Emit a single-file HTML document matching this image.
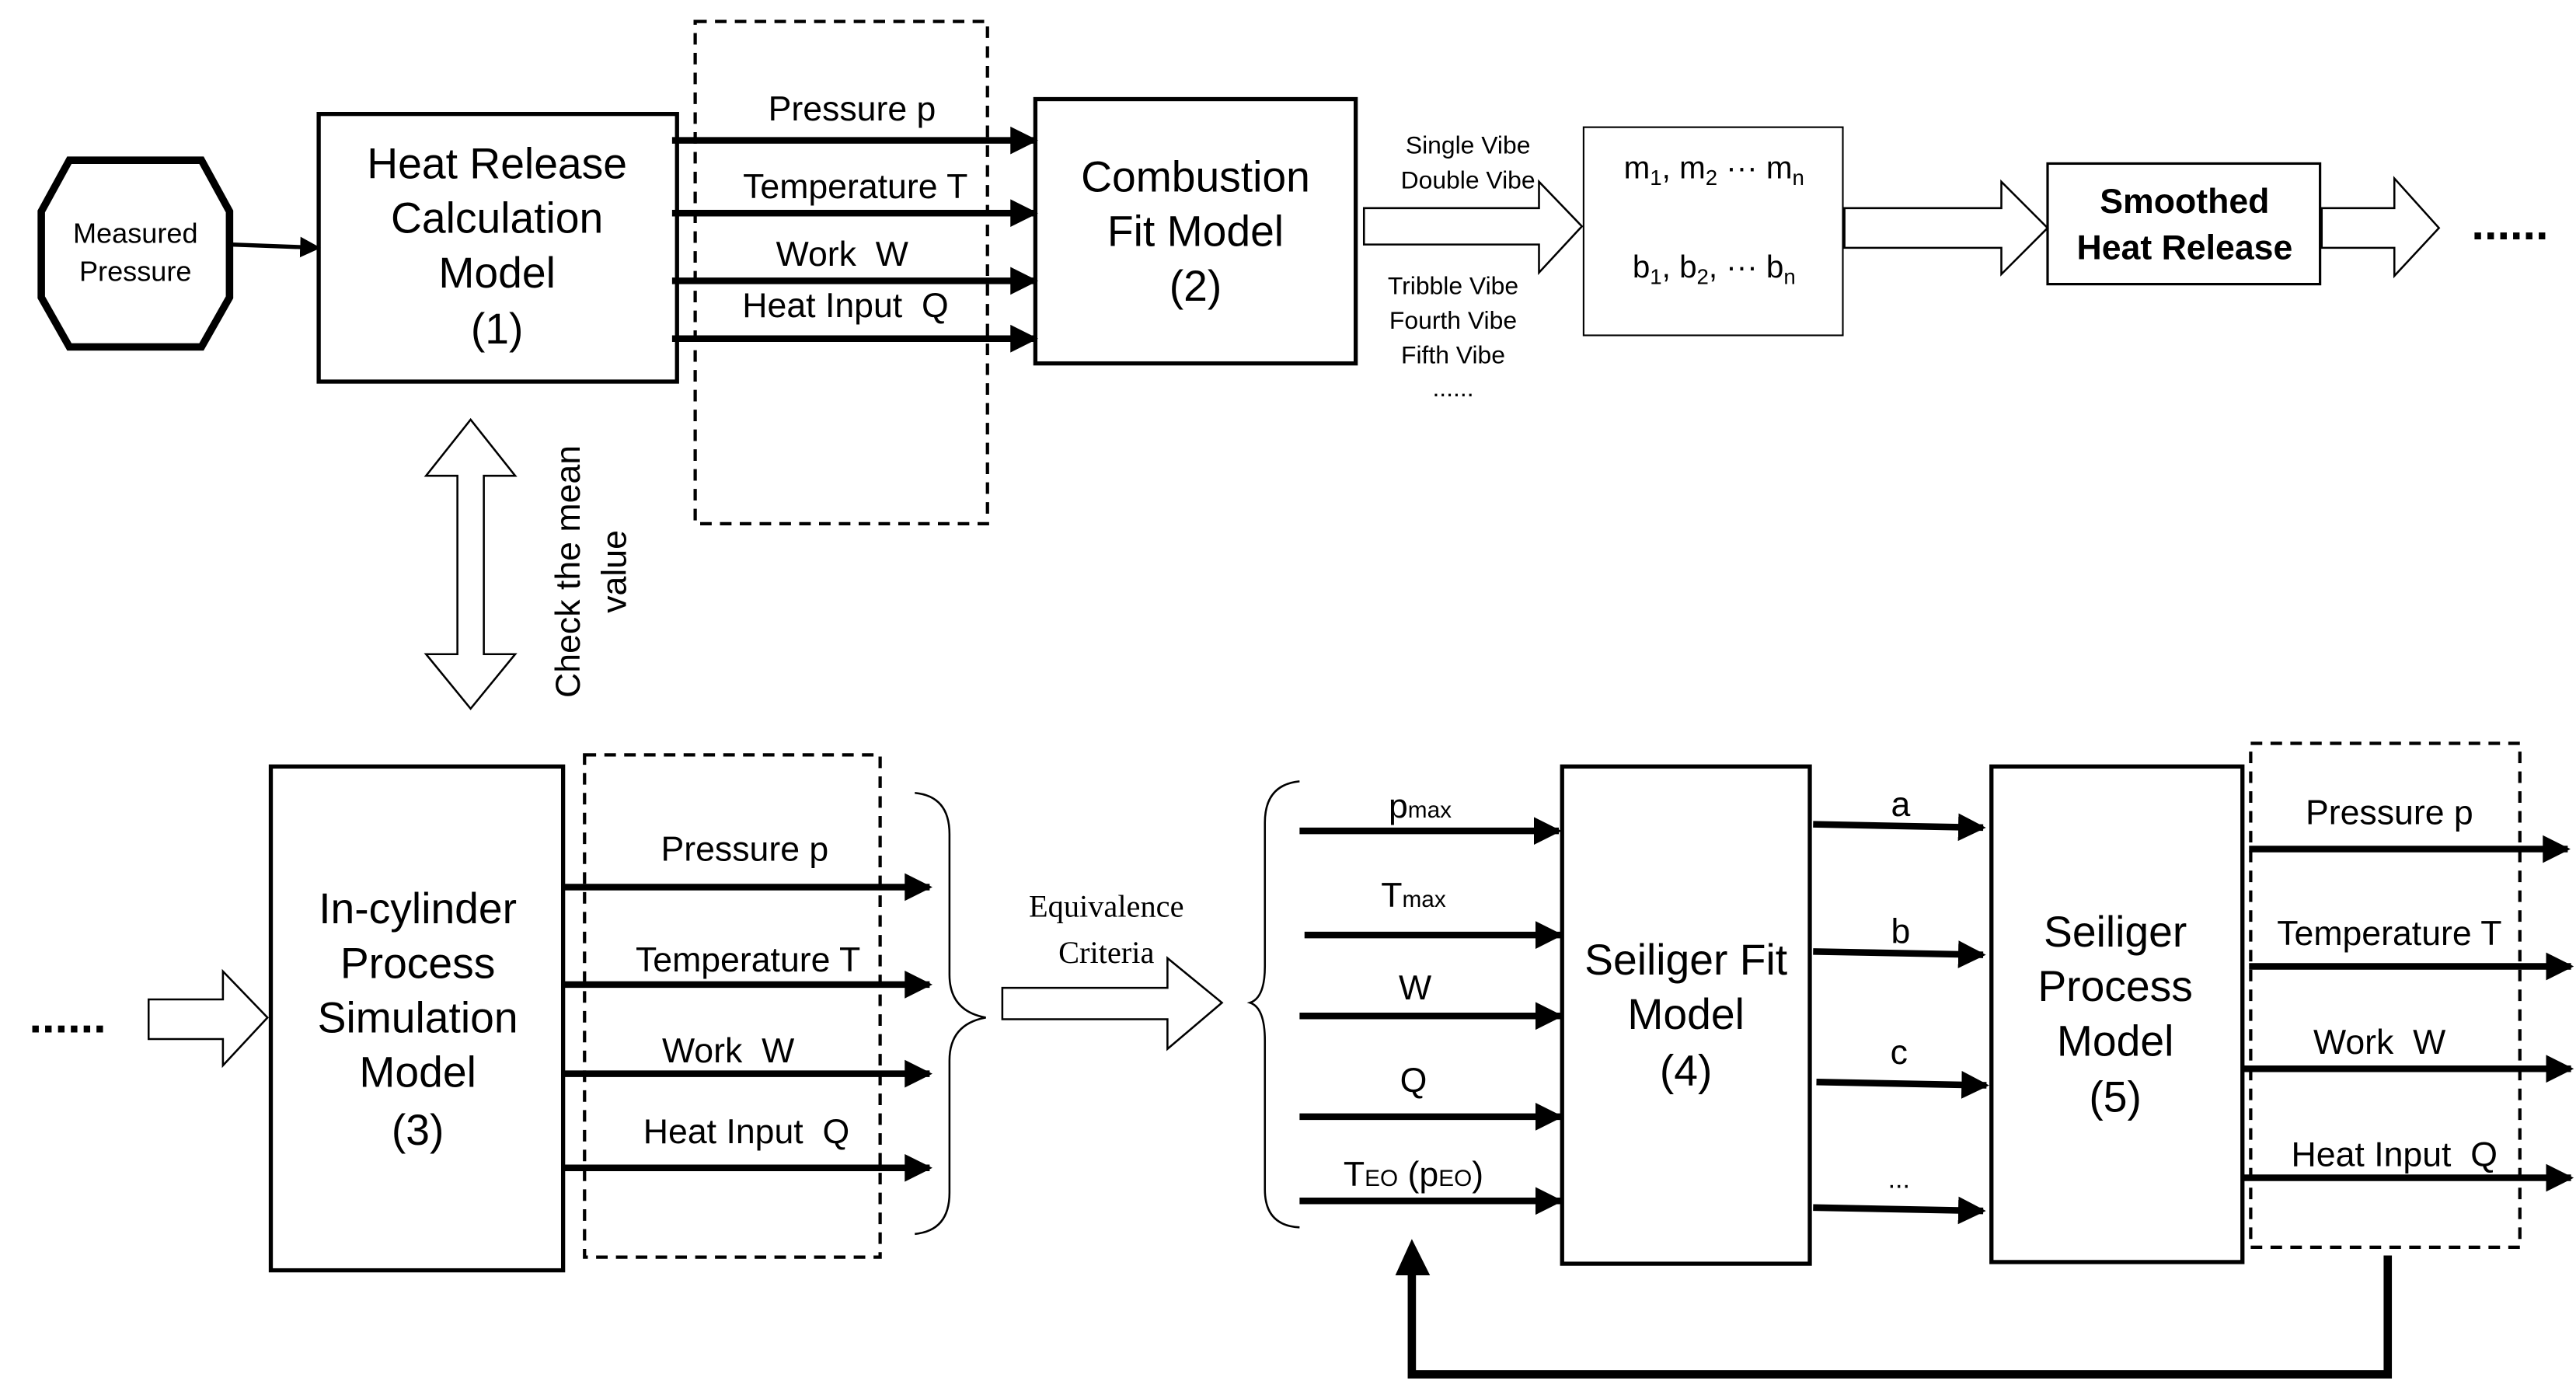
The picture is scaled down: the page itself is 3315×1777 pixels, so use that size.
<!DOCTYPE html>
<html><head><meta charset="utf-8"><style>html,body{margin:0;padding:0;background:#fff}svg{display:block}</style></head>
<body>
<svg width="3315" height="1777" viewBox="0 0 1560 836" preserveAspectRatio="none" xmlns="http://www.w3.org/2000/svg" font-family="Liberation Sans, Arial, sans-serif" text-anchor="middle">
<defs>
<marker id="ah" viewBox="0 0 10 10" refX="9" refY="5" markerWidth="4.2" markerHeight="4.8" orient="auto" markerUnits="strokeWidth"><path d="M0,0 L10,5 L0,10 z" fill="#000"/></marker>
<marker id="ah2" viewBox="0 0 10 10" refX="9" refY="5" markerWidth="5" markerHeight="5.5" orient="auto" markerUnits="strokeWidth"><path d="M0,0 L10,5 L0,10 z" fill="#000"/></marker>
</defs>
<rect width="1560" height="836" fill="#fff"/>
<g fill="none" stroke="#000">
<polygon points="42,97 122,97 139,128 139,180 122,210 42,210 25,180 25,128" stroke-width="4.5"/>
<line x1="139" y1="148" x2="193" y2="150" stroke-width="2.5" marker-end="url(#ah2)"/>
<rect x="193" y="69" width="217" height="162" stroke-width="2.5"/>
<rect x="421" y="13" width="177" height="304" stroke-width="2" stroke-dasharray="7,5"/>
<g stroke-width="4" marker-end="url(#ah)">
<line x1="407" y1="85" x2="627" y2="85"/>
<line x1="407" y1="129" x2="627" y2="129"/>
<line x1="407" y1="170" x2="627" y2="170"/>
<line x1="407" y1="205" x2="627" y2="205"/>
</g>
<rect x="627" y="60" width="194" height="160" stroke-width="2.5"/>
<polygon points="826,126 932,126 932,110 958,137 932,165 932,148 826,148" stroke-width="1.2"/>
<rect x="959" y="77" width="157" height="126" stroke-width="1"/>
<polygon points="1117,126 1212,126 1212,110 1240,138 1212,166 1212,150 1117,150" stroke-width="1.2"/>
<rect x="1240" y="99" width="165" height="73" stroke-width="1.5"/>
<polygon points="1406,126 1450,126 1450,108 1477,138 1450,167 1450,150 1406,150" stroke-width="1.2"/>
<polygon points="285,254 312,288 293,288 293,396 312,396 285,429 258,396 277,396 277,288 258,288" stroke-width="1.2"/>
<polygon points="90,605 135,605 135,588 162,616 135,645 135,629 90,629" stroke-width="1.2"/>
<rect x="164" y="464" width="177" height="305" stroke-width="2.5"/>
<rect x="354" y="457" width="179" height="304" stroke-width="2" stroke-dasharray="7,5"/>
<g stroke-width="4" marker-end="url(#ah)">
<line x1="341" y1="537" x2="563" y2="537"/>
<line x1="341" y1="596" x2="563" y2="596"/>
<line x1="341" y1="650" x2="563" y2="650"/>
<line x1="341" y1="707" x2="563" y2="707"/>
</g>
<path d="M554,480 Q575,482 575,505 L575,590 Q575,612 597,616 Q575,620 575,642 L575,722 Q575,745 554,747" stroke-width="1.2"/>
<polygon points="607,598 707,598 707,580 740,607 707,635 707,617 607,617" stroke-width="1.2"/>
<path d="M787,473 Q766,475 766,498 L766,585 Q766,604 757,607 Q766,610 766,630 L766,720 Q766,742 787,743" stroke-width="1.2"/>
<g stroke-width="4" marker-end="url(#ah)">
<line x1="787" y1="503" x2="944" y2="503"/>
<line x1="790" y1="566" x2="945" y2="566"/>
<line x1="787" y1="615" x2="945" y2="615"/>
<line x1="787" y1="676" x2="945" y2="676"/>
<line x1="787" y1="727" x2="945" y2="727"/>
</g>
<rect x="946" y="464" width="150" height="301" stroke-width="2.5"/>
<g stroke-width="4" marker-end="url(#ah)">
<line x1="1098" y1="499" x2="1201" y2="501"/>
<line x1="1098" y1="576" x2="1201" y2="578"/>
<line x1="1100" y1="655" x2="1203" y2="657"/>
<line x1="1098" y1="731" x2="1201" y2="733"/>
</g>
<rect x="1206" y="464" width="152" height="300" stroke-width="2.5"/>
<rect x="1363" y="450" width="163" height="305" stroke-width="2" stroke-dasharray="7,5"/>
<g stroke-width="4" marker-end="url(#ah)">
<line x1="1362" y1="514" x2="1555" y2="514"/>
<line x1="1362" y1="585" x2="1557" y2="585"/>
<line x1="1358" y1="647" x2="1557" y2="647"/>
<line x1="1358" y1="713" x2="1557" y2="713"/>
</g>
<polyline points="1446,760 1446,832 855,832 855,770" stroke-width="5"/>
</g>
<polygon points="845,772 855,750 866,772" fill="#000"/>
<g fill="#000">
<text x="82" y="147" font-size="17">Measured</text>
<text x="82" y="170" font-size="17">Pressure</text>
<g font-size="26">
<text x="301" y="108">Heat Release</text>
<text x="301" y="141">Calculation</text>
<text x="301" y="174">Model</text>
<text x="301" y="208">(1)</text>
<text x="724" y="116">Combustion</text>
<text x="724" y="149">Fit Model</text>
<text x="724" y="182">(2)</text>
<text x="253" y="559">In-cylinder</text>
<text x="253" y="592">Process</text>
<text x="253" y="625">Simulation</text>
<text x="253" y="658">Model</text>
<text x="253" y="693">(3)</text>
<text x="1021" y="590">Seiliger Fit</text>
<text x="1021" y="623">Model</text>
<text x="1021" y="657">(4)</text>
<text x="1281" y="573">Seiliger</text>
<text x="1281" y="606">Process</text>
<text x="1281" y="639">Model</text>
<text x="1281" y="673">(5)</text>
</g>
<g font-size="21">
<text x="516" y="73">Pressure p</text>
<text x="518" y="120">Temperature T</text>
<text x="510" y="161">Work &#160;W</text>
<text x="512" y="192">Heat Input &#160;Q</text>
<text x="451" y="521">Pressure p</text>
<text x="453" y="588">Temperature T</text>
<text x="441" y="643">Work &#160;W</text>
<text x="452" y="692">Heat Input &#160;Q</text>
<text x="1447" y="499">Pressure p</text>
<text x="1447" y="572">Temperature T</text>
<text x="1441" y="638">Work &#160;W</text>
<text x="1450" y="706">Heat Input &#160;Q</text>
<text x="860" y="495">p<tspan font-size="14">max</tspan></text>
<text x="856" y="549">T<tspan font-size="14">max</tspan></text>
<text x="857" y="605">W</text>
<text x="856" y="661">Q</text>
<text x="856" y="718">T<tspan font-size="14">EO</tspan> (p<tspan font-size="14">EO</tspan>)</text>
<text x="1151" y="494">a</text>
<text x="1151" y="571">b</text>
<text x="1150" y="644">c</text>
<text x="1150" y="719" font-size="16">...</text>
</g>
<g font-size="15">
<text x="889" y="93">Single Vibe</text>
<text x="889" y="114">Double Vibe</text>
<text x="880" y="178">Tribble Vibe</text>
<text x="880" y="199">Fourth Vibe</text>
<text x="880" y="220">Fifth Vibe</text>
<text x="880" y="240">......</text>
</g>
<g font-size="19">
<text x="1038" y="108">m<tspan font-size="13" dy="4">1</tspan><tspan dy="-4">, m</tspan><tspan font-size="13" dy="4">2</tspan><tspan dy="-4"> ··· m</tspan><tspan font-size="13" dy="4">n</tspan></text>
<text x="1038" y="168">b<tspan font-size="13" dy="4">1</tspan><tspan dy="-4">, b</tspan><tspan font-size="13" dy="4">2</tspan><tspan dy="-4">, ··· b</tspan><tspan font-size="13" dy="4">n</tspan></text>
</g>
<text x="1323" y="129" font-size="21" font-weight="bold">Smoothed</text>
<text x="1323" y="157" font-size="21" font-weight="bold">Heat Release</text>
<text x="1520" y="145" font-size="28" font-weight="bold">......</text>
<text x="41" y="625" font-size="28" font-weight="bold">......</text>
<text x="670" y="555" font-size="19" font-family="Liberation Serif, serif">Equivalence</text>
<text x="670" y="583" font-size="19" font-family="Liberation Serif, serif">Criteria</text>
<text transform="translate(351,346) rotate(-90)" font-size="21">Check the mean</text>
<text transform="translate(379,346) rotate(-90)" font-size="21">value</text>
</g>
</svg>
</body></html>
